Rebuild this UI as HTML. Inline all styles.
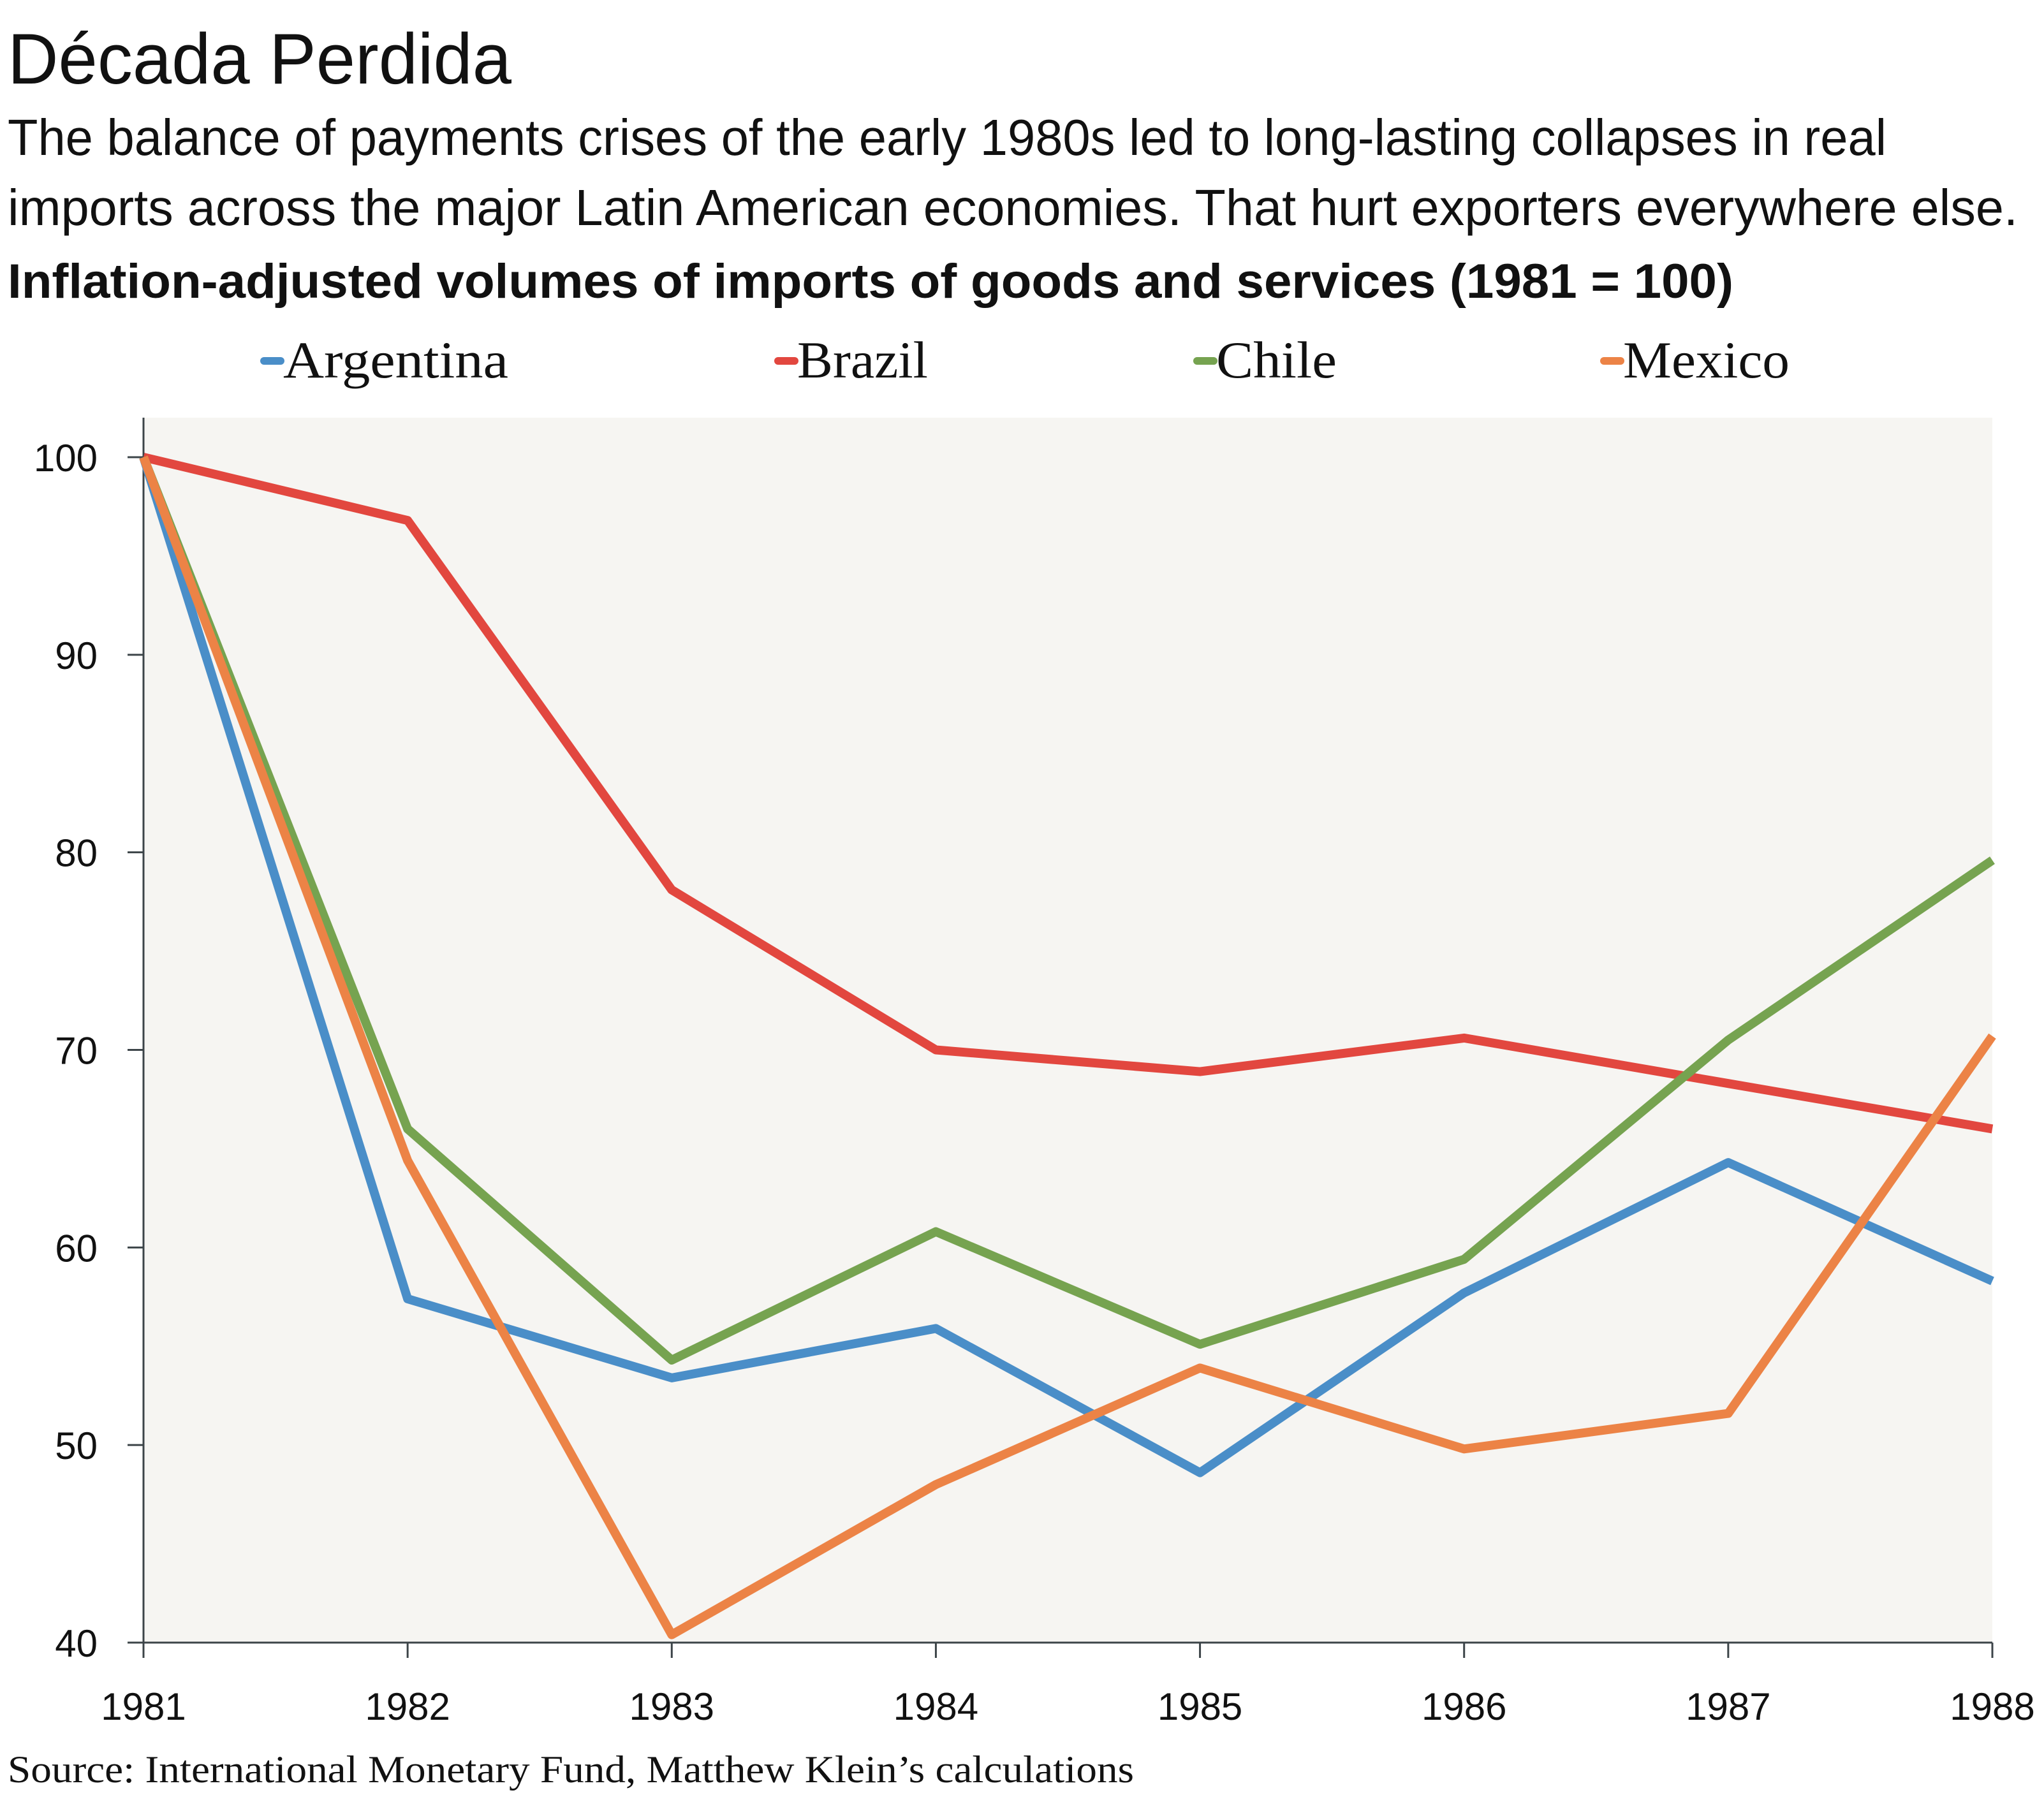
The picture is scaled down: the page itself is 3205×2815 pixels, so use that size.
<!DOCTYPE html>
<html><head><meta charset="utf-8"><style>
html,body{margin:0;padding:0;background:#fff;}
svg{display:block;}
</style></head><body>
<svg id="chart" width="3205" height="2815" viewBox="0 0 3205 2815" xmlns="http://www.w3.org/2000/svg">
<text x="12" y="131" font-family="Liberation Sans, sans-serif" font-size="112" textLength="790" lengthAdjust="spacingAndGlyphs" fill="#111">Década Perdida</text>
<text x="12" y="243" font-family="Liberation Sans, sans-serif" font-size="80" textLength="2946" lengthAdjust="spacingAndGlyphs" fill="#111">The balance of payments crises of the early 1980s led to long-lasting collapses in real</text>
<text x="12" y="353" font-family="Liberation Sans, sans-serif" font-size="80" textLength="3152" lengthAdjust="spacingAndGlyphs" fill="#111">imports across the major Latin American economies. That hurt exporters everywhere else.</text>
<text x="12" y="467" font-family="Liberation Sans, sans-serif" font-size="76" font-weight="bold" textLength="2706" lengthAdjust="spacingAndGlyphs" fill="#111">Inflation-adjusted volumes of imports of goods and services (1981 = 100)</text>
<g id="legend"></g>
<rect x="225" y="655" width="2899" height="1921" fill="#f6f5f2"/>
<g id="axes"></g>
<g id="series"></g>
<text x="12" y="2795" font-family="Liberation Serif, serif" font-size="60" textLength="1766" lengthAdjust="spacingAndGlyphs" fill="#111">Source: International Monetary Fund, Matthew Klein’s calculations</text>
</svg>
<script>
const years = [1981,1982,1983,1984,1985,1986,1987,1988];
const yTicks = [40,50,60,70,80,90,100];
const seriesNames = ["Argentina","Brazil","Chile","Mexico"];
const argentina = [100,57.4,53.4,55.9,48.6,57.7,64.3,58.3];
const brazil = [100,96.8,78.1,70.0,68.9,70.6,68.3,66.0];
const chile = [100,66.0,54.3,60.8,55.1,59.4,70.5,79.6];
const mexico = [100,64.4,40.4,48.0,53.9,49.8,51.6,70.7];
const colors = ["#4a8ec8","#e2473f","#76a350","#ec8346"];
const allSeries = [argentina,brazil,chile,mexico];

const NS="http://www.w3.org/2000/svg";
const X0=225,X1=3124,Y0=2576,YTOP=717;
const xs = i => X0 + i*(X1-X0)/(years.length-1);
const ys = v => Y0 - (v-40)*(Y0-YTOP)/60;
function mk(tag,attrs,parent){const e=document.createElementNS(NS,tag);for(const k in attrs)e.setAttribute(k,attrs[k]);parent.appendChild(e);return e;}

const axes=document.getElementById('axes');
let a=mk('line',{x1:X0,y1:655,x2:X0,y2:Y0,stroke:'#3c4448','stroke-width':3},axes);


a=mk('line',{x1:X0,y1:Y0,x2:X1,y2:Y0,stroke:'#3c4448','stroke-width':3},axes);


yTicks.forEach(v=>{
  const t=mk('line',{x1:X0-25,y1:ys(v),x2:X0,y2:ys(v),stroke:'#3c4448','stroke-width':3},axes);
  
  
  const l=mk('text',{x:153,y:ys(v)+22,'text-anchor':'end','font-family':'Liberation Sans, sans-serif','font-size':60,fill:'#111'},axes);
  l.textContent=v;
  
  
});
years.forEach((yr,i)=>{
  const t=mk('line',{x1:xs(i),y1:Y0,x2:xs(i),y2:Y0+24,stroke:'#3c4448','stroke-width':3},axes);
  
  
  const l=mk('text',{x:xs(i),y:2697,'text-anchor':'middle','font-family':'Liberation Sans, sans-serif','font-size':60,fill:'#111'},axes);
  l.textContent=yr;
  
  
});

const sg=document.getElementById('series');
allSeries.forEach((vals,si)=>{
  const pts=vals.map((v,i)=>xs(i)+','+ys(v)).join(' ');
  const p=mk('polyline',{points:pts,fill:'none',stroke:colors[si],'stroke-width':14,'stroke-linejoin':'round'},sg);
  
  
});

const lg=document.getElementById('legend');
const mx=[408,1214,1871,2509];
const lw=[353,205,189,261];
seriesNames.forEach((n,i)=>{
  const m=mk('line',{x1:mx[i]+6,y1:566,x2:mx[i]+32,y2:566,stroke:colors[i],'stroke-width':12,'stroke-linecap':'round'},lg);
  
  
  const t=mk('text',{x:mx[i]+36,y:592,'font-family':'Liberation Serif, serif','font-size':82,fill:'#111',textLength:lw[i],lengthAdjust:'spacingAndGlyphs'},lg);
  t.textContent=n;
  
  
});
</script>
</body></html>
